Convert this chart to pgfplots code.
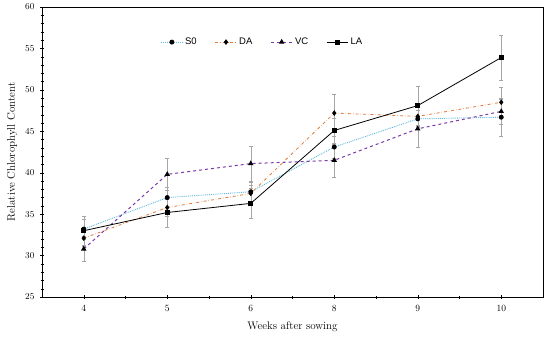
\documentclass[border=0pt]{standalone}
\usepackage{pgfplots}
\pgfplotsset{compat=1.18}
\usepackage{fontspec}
\newfontfamily\legfont{Liberation Sans}
\definecolor{sblue}{HTML}{5DB7DE}
\definecolor{dorange}{HTML}{E0783A}
\definecolor{vpurple}{HTML}{7A3AA8}
\begin{document}
\begin{tikzpicture}
\begin{axis}[
  scale only axis,
  width=501pt, height=290pt,
  xmin=-0.5, xmax=5.5,
  ymin=25, ymax=60,
  xtick={0,1,2,3,4,5},
  xticklabels={4,5,6,8,9,10},
  minor x tick num=1,
  ytick={25,30,...,60},
  minor y tick num=4,
  xtick pos=bottom, ytick pos=left,
  tick align=center,
  major tick length=4pt, minor tick length=3pt,
  tick style={black, thin},
  ticklabel style={font=\fontsize{9.5}{10}\selectfont},
  xticklabel style={yshift=-3pt},
  yticklabel style={xshift=-2pt},
  xlabel={Weeks after sowing},
  ylabel={Relative Chlorophyll Content},
  label style={font=\fontsize{11}{12}\selectfont},
  xlabel style={at={([yshift=-30pt]rel axis cs:0.5,0)}, anchor=center},
  ylabel style={at={([xshift=-30pt]rel axis cs:0,0.5)}, anchor=center, rotate=0},
  legend style={at={(0.44,0.879)}, anchor=center, draw=none, fill=none,
    legend columns=4, font=\legfont\fontsize{9.5}{10}\selectfont,
    /tikz/every even column/.append style={column sep=16pt}},
  legend image code/.code={\draw[mark repeat=2,mark phase=2,#1] plot coordinates {(0cm,0cm) (0.38cm,0cm) (0.76cm,0cm)};},
  legend cell align=left,
  error bars/error bar style={gray!70, thin, solid},
  error bars/error mark options={rotate=90, gray!70, mark size=2pt, thin, solid},
]
\addplot[sblue, densely dotted, line width=0.9pt, mark=*, mark size=2pt, mark options={solid, black, fill=black},
  error bars/.cd, y dir=both, y explicit]
  coordinates {(0,33.2) +- (0,1.2) (1,37.0) +- (0,1.2) (2,37.7) +- (0,1.2) (3,43.1) +- (0,1.3) (4,46.5) +- (0,1.0) (5,46.7) +- (0,2.3)};
\addlegendentry{S0}
\addplot[dorange, dash dot, line width=0.8pt, mark=diamond*, mark size=2.2pt, mark options={solid, black, fill=black},
  error bars/.cd, y dir=both, y explicit]
  coordinates {(0,32.1) +- (0,1.0) (1,35.8) +- (0,1.0) (2,37.5) +- (0,1.0) (3,47.2) +- (0,2.3) (4,46.8) +- (0,1.2) (5,48.5) +- (0,1.8)};
\addlegendentry{DA}
\addplot[vpurple, dashed, line width=1pt, mark=triangle*, mark size=2.2pt, mark options={solid, black, fill=black},
  error bars/.cd, y dir=both, y explicit]
  coordinates {(0,30.8) +- (0,1.5) (1,39.8) +- (0,1.9) (2,41.1) +- (0,2.1) (3,41.5) +- (0,2.0) (4,45.3) +- (0,2.2) (5,47.4) +- (0,1.5)};
\addlegendentry{VC}
\addplot[black, solid, line width=0.8pt, mark=square*, mark size=2pt, mark options={solid, black, fill=black},
  error bars/.cd, y dir=both, y explicit]
  coordinates {(0,33.0) +- (0,1.7) (1,35.2) +- (0,1.8) (2,36.3) +- (0,1.8) (3,45.1) +- (0,1.5) (4,48.1) +- (0,2.4) (5,53.9) +- (0,2.7)};
\addlegendentry{LA}
\end{axis}
\path (current axis.south west) ++(-42pt,-40pt) coordinate (bl);
\path (current axis.north east) ++(7pt,7pt) coordinate (tr);
\useasboundingbox (bl) rectangle (tr);
\end{tikzpicture}
\end{document}
